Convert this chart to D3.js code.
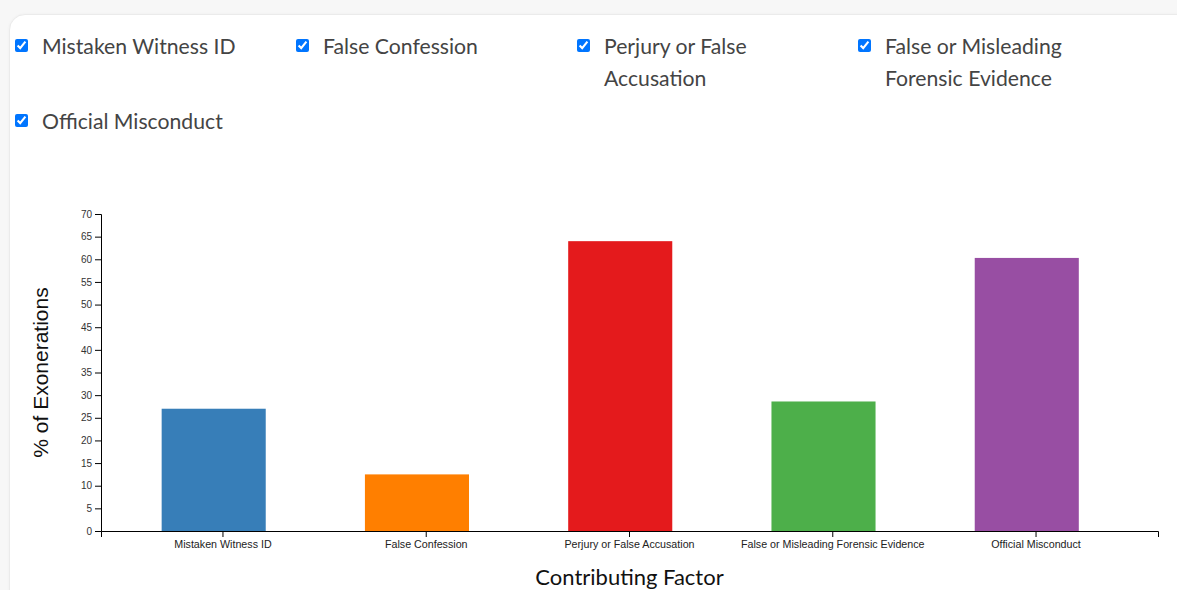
<!DOCTYPE html>
<html>
<head>
<meta charset="utf-8">
<script src="https://cdn.jsdelivr.net/npm/d3@7"></script>
<style>
  body { margin: 0; background: #f7f7f7; width: 1177px; height: 590px; overflow: hidden; position: relative; }
  .card {
    position: absolute; left: 9px; top: 14px; width: 1220px; height: 620px;
    background: #fff; border: 1px solid #ebebeb; border-radius: 16px;
    box-shadow: 0 0 3px rgba(0,0,0,0.04);
  }
  .filter {
    position: absolute; display: flex; align-items: flex-start;
    font-family: Lato, "Noto Sans", sans-serif; font-size: 21.2px; line-height: 32px; color: #444;
  }
  .filter input { margin: 9px 14px 0 0; width: 13px; height: 13px; }
  .filter span { width: 215px; }
  svg { position: absolute; left: 0; top: 0; }
  .axis text { font-family: "Liberation Sans", Arial, sans-serif; font-size: 10px; fill: #333; }
  .axis.xaxis text { font-size: 10.7px; fill: #222; }
  .axis path, .axis line { stroke: #000; }
</style>
</head>
<body>
<div class="card"></div>
<div id="filters"></div>
<svg id="chart" width="1177" height="590"></svg>
<script>
// Data
const factors = ["Mistaken Witness ID", "False Confession", "Perjury or False Accusation",
                 "False or Misleading Forensic Evidence", "Official Misconduct"];
const filterLabels = ["Mistaken Witness ID", "False Confession", "Perjury or False Accusation",
                      "False or Misleading Forensic Evidence", "Official Misconduct"];
const percents = [27.0, 12.5, 64.0, 28.6, 60.3];
const colors = ["#377eb8", "#ff7f00", "#e41a1c", "#4daf4a", "#984ea3"];
const yTicks = d3.range(0, 71, 5);

// Checkboxes
const filterPos = [[15, 30], [296, 30], [577, 30], [858, 30], [15, 105]];
const filters = d3.select("#filters").selectAll(".filter")
    .data(filterLabels)
    .enter().append("label")
    .attr("class", "filter")
    .style("left", (d, i) => filterPos[i][0] + "px")
    .style("top", (d, i) => filterPos[i][1] + "px");
filters.append("input").attr("type", "checkbox").property("checked", true);
filters.append("span").text(d => d);

// Chart
const svg = d3.select("#chart");
const plotLeft = 101, plotRight = 1158, plotTop = 214, plotBottom = 531;

const x = d3.scaleBand().domain(factors).range([plotLeft, plotRight]).padding(0.2);
const y = d3.scaleLinear().domain([0, 70]).range([plotBottom, plotTop]);

svg.append("g")
    .attr("class", "axis")
    .attr("transform", "translate(" + plotLeft + ",0)")
    .call(d3.axisLeft(y).tickValues(yTicks));

svg.append("g")
    .attr("class", "axis xaxis")
    .attr("transform", "translate(0," + plotBottom + ")")
    .call(d3.axisBottom(x));

svg.append("g")
    .selectAll("rect")
    .data(factors)
    .enter().append("rect")
        .attr("x", d => x(d) + x.bandwidth() * 0.123)
        .attr("width", x.bandwidth() * 0.64)
        .attr("y", (d, i) => y(percents[i]))
        .attr("height", (d, i) => y(0) - y(percents[i]))
        .attr("fill", (d, i) => colors[i]);

// Axis titles
svg.append("text")
    .attr("transform", "translate(48," + (plotTop + plotBottom) / 2 + ") rotate(-90)")
    .attr("text-anchor", "middle")
    .style("font-family", "'Liberation Sans', Arial, sans-serif")
    .style("font-size", "21px")
    .attr("fill", "#111")
    .text("% of Exonerations");

svg.append("text")
    .attr("x", (plotLeft + plotRight) / 2)
    .attr("y", 585)
    .attr("text-anchor", "middle")
    .style("font-family", "Lato, 'Noto Sans', sans-serif")
    .style("font-size", "22px")
    .attr("fill", "#111")
    .text("Contributing Factor");
</script>
</body>
</html>
